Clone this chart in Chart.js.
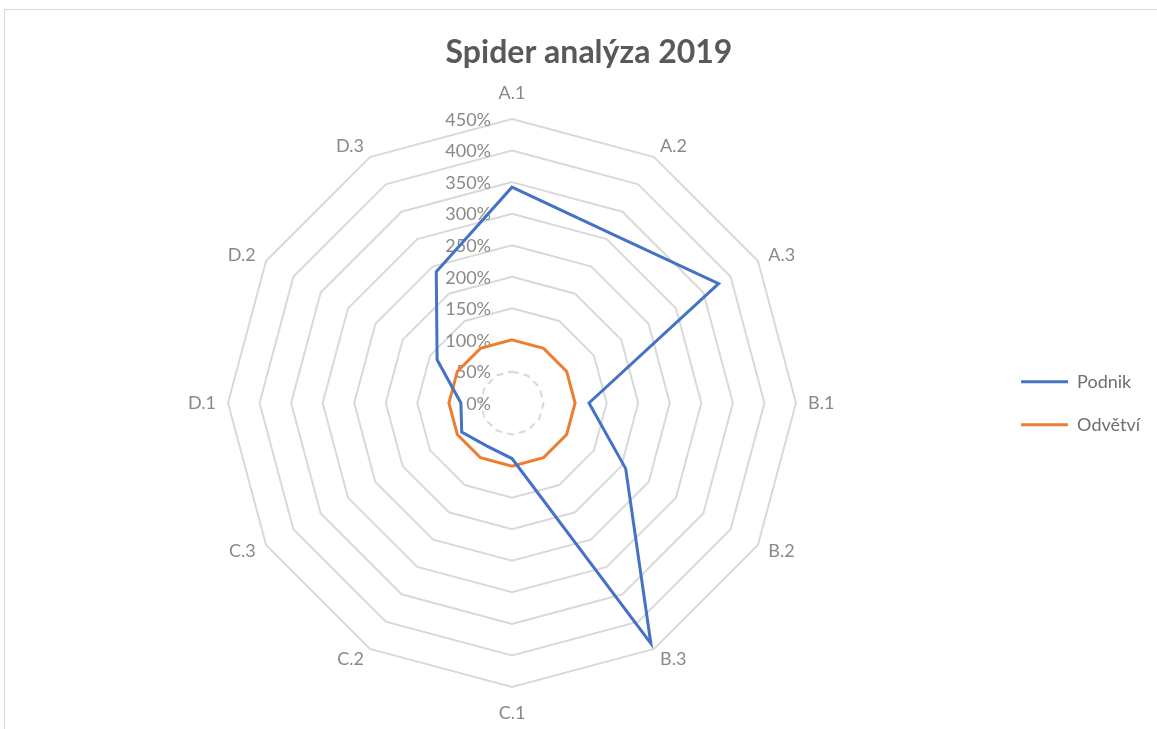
<!DOCTYPE html>
<html>
<head>
<meta charset="utf-8">
<title>Spider analýza 2019</title>
<script src="https://cdn.jsdelivr.net/npm/chart.js@4.4.1/dist/chart.umd.min.js"></script>
<style>
  html, body { margin: 0; padding: 0; background: #fff; overflow: hidden; }
  #frame { position: absolute; left: 4px; top: 9px; width: 1180px; height: 740px;
           border-top: 1px solid #d6d6d6; border-left: 1px solid #d6d6d6; }
  canvas { display: block; }
</style>
</head>
<body>
<div id="frame"><canvas id="spider" width="1176" height="720"></canvas></div>
<script>
// osy grafu
var categories = ['A.1', 'A.2', 'A.3', 'B.1', 'B.2', 'B.3', 'C.1', 'C.2', 'C.3', 'D.1', 'D.2', 'D.3'];
// hodnoty v %
var podnik  = [342, 311, 378, 122, 208, 440, 88, 79, 92, 81, 137, 240];
var odvetvi = [100, 100, 100, 100, 100, 100, 100, 100, 100, 100, 100, 100];
var tickMin = 0, tickMax = 450, tickStep = 50;

var labelFont = '18px Lato';
var labelColor = '#898989';

// popisky os a hodnot ve stylu Excelu (vlevo od svisle osy, nazvy kolem)
var excelText = {
	id: 'excelText',
	beforeDatasetsDraw: function(chart) {
		var s = chart.scales.r;
		var ctx = chart.ctx;
		ctx.save();
		ctx.font = labelFont;
		ctx.fillStyle = labelColor;
		ctx.textBaseline = 'middle';
		ctx.textAlign = 'right';
		s.ticks.forEach(function(t) {
			ctx.fillText(t.label, s.xCenter - 21, s.yCenter - s.getDistanceFromCenterForValue(t.value) + 1);
		});
		categories.forEach(function(c, i) {
			var p = s.getPointPosition(i, s.drawingArea + 12);
			var dx = p.x - s.xCenter;
			if (Math.abs(dx) < 1) {
				// nahore / dole
				p = s.getPointPosition(i, s.drawingArea + 26);
				ctx.textAlign = 'center';
			} else {
				ctx.textAlign = dx > 0 ? 'left' : 'right';
			}
			ctx.fillText(c, p.x, p.y);
		});
		ctx.restore();
	}
};

var ctx = document.getElementById('spider');
var spider = new Chart(ctx, {
	type: 'radar',
	data: {
		labels: categories,
		datasets: [
			{
				label: 'Podnik',
				data: podnik,
				borderColor: '#4472C4',
				backgroundColor: '#4472C4',
				borderWidth: 3,
				fill: false,
				pointRadius: 0,
				tension: 0
			},
			{
				label: 'Odvětví',
				data: odvetvi,
				borderColor: '#ED7D31',
				backgroundColor: '#ED7D31',
				borderWidth: 3,
				fill: false,
				pointRadius: 0,
				tension: 0
			}
		]
	},
	options: {
		responsive: false,
		animation: false,
		devicePixelRatio: 1,
		layout: {
			padding: { left: 23, right: 31, top: 0, bottom: 42 }
		},
		plugins: {
			title: {
				display: true,
				text: 'Spider analýza 2019',
				color: '#595959',
				font: { family: 'Lato', size: 32, weight: 'bold' },
				padding: { top: 23, bottom: 47 }
			},
			legend: {
				position: 'right',
				fullSize: false,
				labels: {
					usePointStyle: true,
					pointStyle: 'line',
					pointStyleWidth: 47,
					padding: 25,
					color: '#6f6f6f',
					font: { family: 'Lato', size: 18 }
				}
			},
			tooltip: { enabled: false }
		},
		scales: {
			r: {
				min: tickMin,
				max: tickMax,
				ticks: {
					stepSize: tickStep,
					display: false,
					callback: function(v) { return v + '%'; }
				},
				angleLines: { display: false },
				grid: { color: '#d9d9d9', lineWidth: 2 },
				border: {
					dash: function(c) { return c.index === 1 ? [7, 5] : []; }
				},
				pointLabels: { display: false }
			}
		}
	},
	plugins: [excelText]
});
</script>
</body>
</html>
